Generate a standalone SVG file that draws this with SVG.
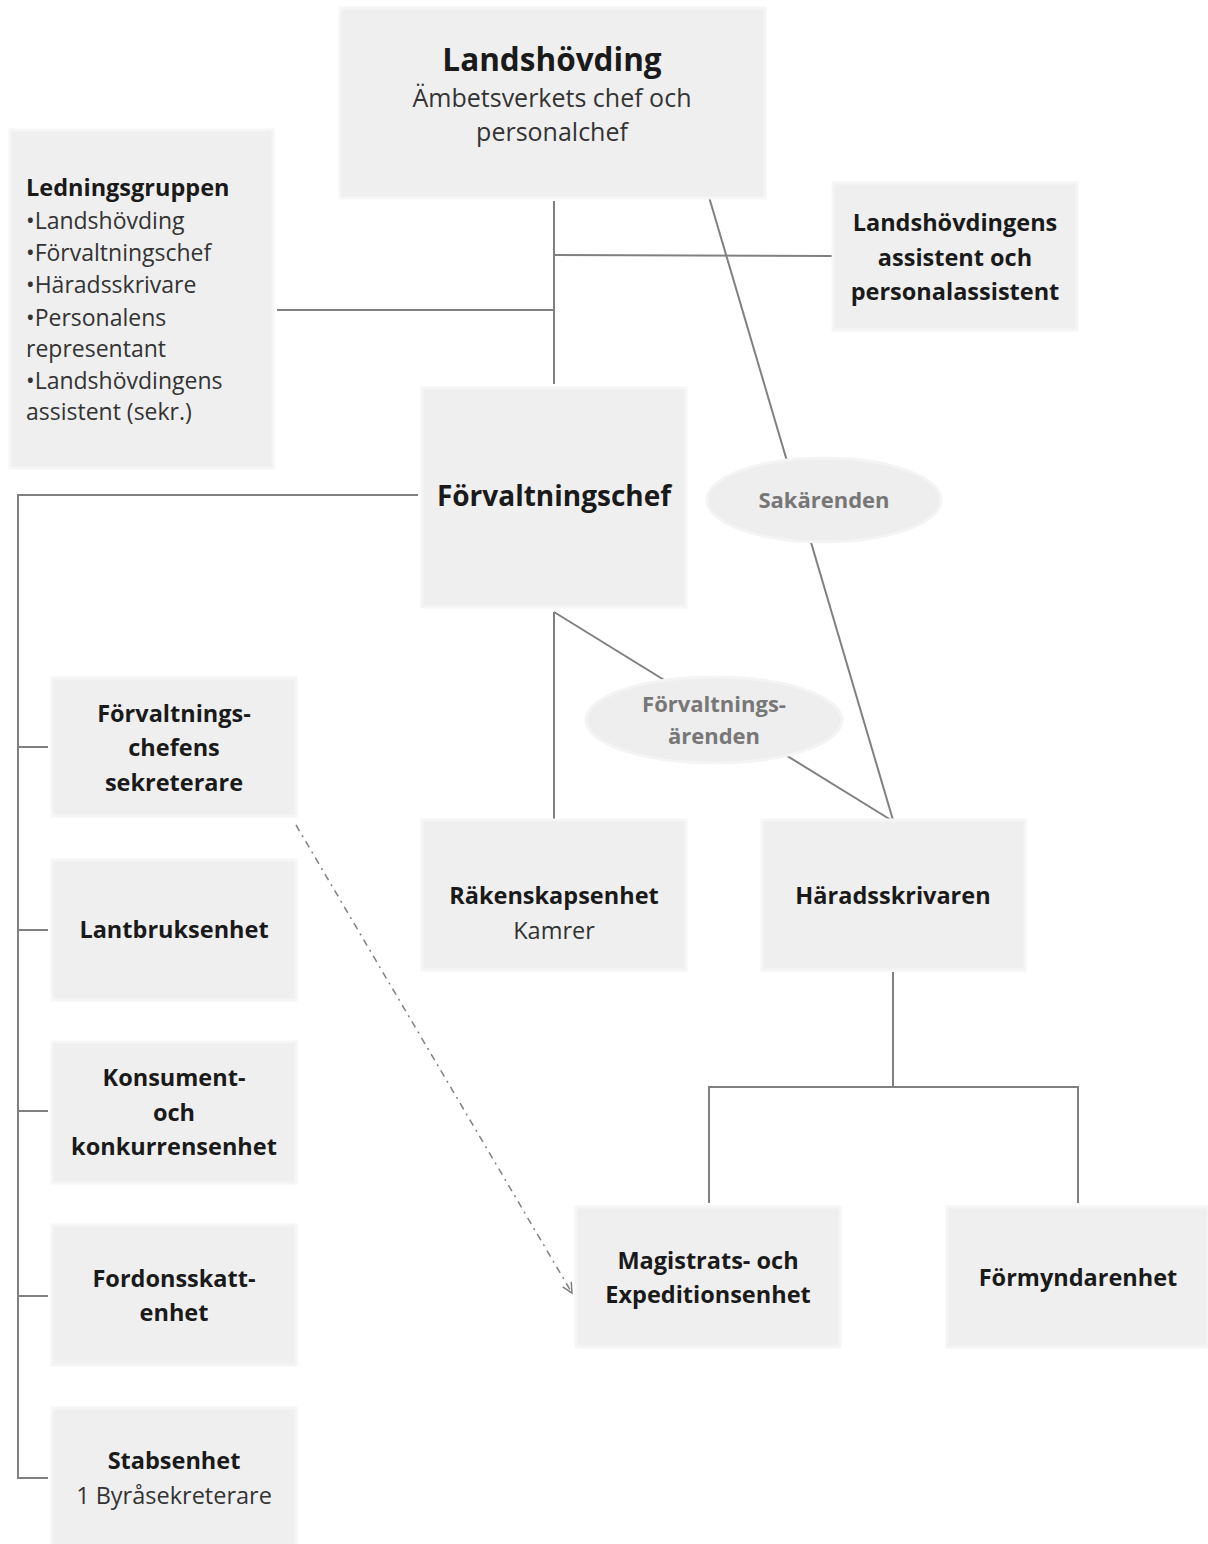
<svg xmlns="http://www.w3.org/2000/svg" width="1208" height="1544" viewBox="0 0 1208 1544">
<style>
.box{fill:#efefef;stroke:#f5f5f5;stroke-width:3}
.ell{fill:#eeeeee;stroke:#f4f4f4;stroke-width:3}
.ln{stroke:#808080;stroke-width:2;fill:none}
text{font-family:"Open Sans",Lato,"Liberation Sans",sans-serif;fill:#1a1a1a;text-anchor:middle}
.b{font-weight:bold;font-size:23.5px}
.n{font-size:23.5px;fill:#333}
.g{font-weight:bold;font-size:22px;fill:#777}
.l{text-anchor:start;font-size:23px;fill:#333}
</style>
<defs>
<marker id="arr" markerWidth="14" markerHeight="14" refX="12" refY="7" orient="auto" markerUnits="userSpaceOnUse">
<path d="M2,2 L12,7 L2,12" fill="none" stroke="#808080" stroke-width="1.5"/>
</marker>
</defs>
<g id="connectors">
<line class="ln" x1="554" y1="201" x2="554" y2="384"/>
<line class="ln" x1="554" y1="255" x2="832" y2="256"/>
<line class="ln" x1="277" y1="310" x2="554" y2="310"/>
<line class="ln" x1="709" y1="197" x2="893" y2="820"/>
<line class="ln" x1="554" y1="612" x2="891" y2="820"/>
<line class="ln" x1="554" y1="612" x2="554" y2="820"/>
<polyline class="ln" points="418,495 18,495 18,1478 48,1478"/>
<line class="ln" x1="18" y1="747" x2="48" y2="747"/>
<line class="ln" x1="18" y1="930" x2="48" y2="930"/>
<line class="ln" x1="18" y1="1111" x2="48" y2="1111"/>
<line class="ln" x1="18" y1="1296" x2="48" y2="1296"/>
<line class="ln" x1="893" y1="972" x2="893" y2="1087"/>
<polyline class="ln" points="709,1203 709,1087 1078,1087 1078,1203"/>
<line x1="296" y1="825" x2="572" y2="1293" stroke="#808080" stroke-width="1.5" stroke-dasharray="7,5,2,5" marker-end="url(#arr)"/>
</g>
<g id="landshovding">
<rect class="box" x="340" y="8" width="425" height="190"/>
<text class="b" x="552" y="71" style="font-size:31.5px">Landshövding</text>
<text class="n" x="552" y="107" style="font-size:25px">Ämbetsverkets chef och</text>
<text class="n" x="552" y="141" style="font-size:25px">personalchef</text>
</g>
<g id="ledningsgruppen">
<rect class="box" x="10" y="130" width="263" height="338"/>
<text class="b" x="26" y="196" style="text-anchor:start">Ledningsgruppen</text>
<text class="l" x="26" y="229">•Landshövding</text>
<text class="l" x="26" y="261">•Förvaltningschef</text>
<text class="l" x="26" y="293">•Häradsskrivare</text>
<text class="l" x="26" y="326">•Personalens</text>
<text class="l" x="26" y="357">representant</text>
<text class="l" x="26" y="389">•Landshövdingens</text>
<text class="l" x="26" y="420">assistent  (sekr.)</text>
</g>
<g id="assistent">
<rect class="box" x="833" y="183" width="244" height="147"/>
<text class="b" x="955" y="231">Landshövdingens</text>
<text class="b" x="955" y="266">assistent och</text>
<text class="b" x="955" y="300">personalassistent</text>
</g>
<g id="forvaltningschef">
<rect class="box" x="422" y="388" width="264" height="219"/>
<text class="b" x="554" y="506" style="font-size:28px">Förvaltningschef</text>
</g>
<g id="sakarenden">
<ellipse class="ell" cx="824" cy="500" rx="117" ry="42"/>
<text class="g" x="824" y="508">Sakärenden</text>
</g>
<g id="forvaltningsarenden">
<ellipse class="ell" cx="714" cy="720" rx="128" ry="43"/>
<text class="g" x="714" y="712">Förvaltnings-</text>
<text class="g" x="714" y="744">ärenden</text>
</g>
<g id="sekreterare">
<rect class="box" x="52" y="678" width="244" height="138"/>
<text class="b" x="174" y="722">Förvaltnings-</text>
<text class="b" x="174" y="756">chefens</text>
<text class="b" x="174" y="791">sekreterare</text>
</g>
<g id="lantbruksenhet">
<rect class="box" x="52" y="860" width="244" height="140"/>
<text class="b" x="174" y="938">Lantbruksenhet</text>
</g>
<g id="konsument">
<rect class="box" x="52" y="1042" width="244" height="141"/>
<text class="b" x="174" y="1086">Konsument-</text>
<text class="b" x="174" y="1121">och</text>
<text class="b" x="174" y="1155">konkurrensenhet</text>
</g>
<g id="fordonsskatt">
<rect class="box" x="52" y="1225" width="244" height="140"/>
<text class="b" x="174" y="1287">Fordonsskatt-</text>
<text class="b" x="174" y="1321">enhet</text>
</g>
<g id="stabsenhet">
<rect class="box" x="52" y="1408" width="244" height="140"/>
<text class="b" x="174" y="1469">Stabsenhet</text>
<text class="n" x="174" y="1504">1 Byråsekreterare</text>
</g>
<g id="rakenskapsenhet">
<rect class="box" x="422" y="820" width="264" height="150"/>
<text class="b" x="554" y="904">Räkenskapsenhet</text>
<text class="n" x="554" y="939">Kamrer</text>
</g>
<g id="haradsskrivaren">
<rect class="box" x="762" y="820" width="263" height="150"/>
<text class="b" x="893" y="904">Häradsskrivaren</text>
</g>
<g id="magistrats">
<rect class="box" x="576" y="1207" width="264" height="140"/>
<text class="b" x="708" y="1269">Magistrats- och</text>
<text class="b" x="708" y="1303">Expeditionsenhet</text>
</g>
<g id="formyndarenhet">
<rect class="box" x="947" y="1207" width="261" height="140"/>
<text class="b" x="1078" y="1286">Förmyndarenhet</text>
</g>
</svg>
